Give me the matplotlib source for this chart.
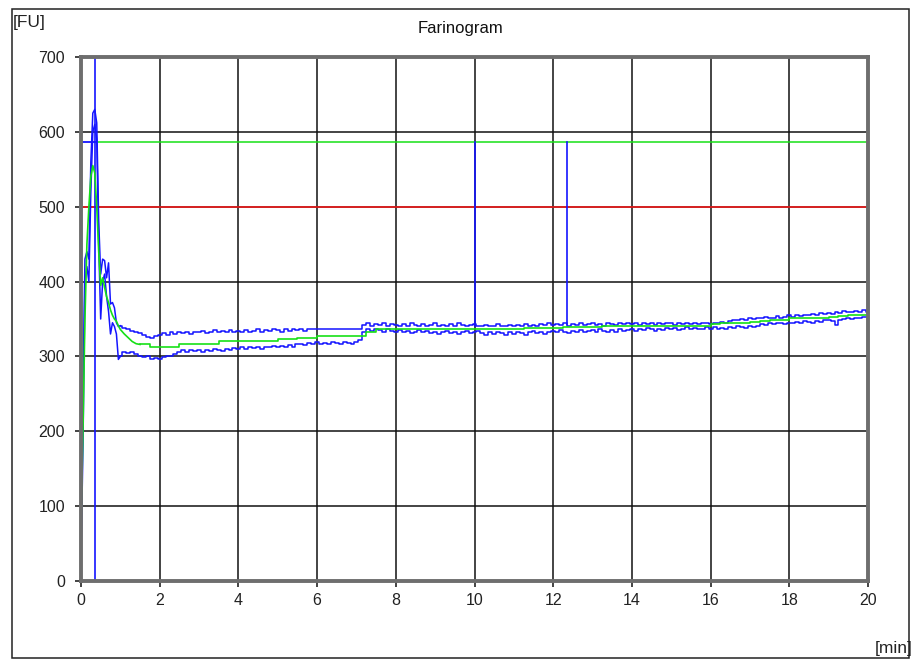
import numpy as np
import matplotlib
matplotlib.use("Agg")
import matplotlib.pyplot as plt
from matplotlib.patches import Rectangle

plt.rcParams['font.family'] = ['Liberation Sans', 'DejaVu Sans']

# start-up phase, fine time steps (min)
start_t = [0.0, 0.05, 0.1, 0.15, 0.2, 0.25, 0.3, 0.35, 0.4, 0.45,
           0.5, 0.55, 0.6, 0.65, 0.7, 0.75, 0.8, 0.85, 0.9, 0.95]
start_hi = [40, 250, 430, 440, 430, 560, 625, 630, 612, 480,
            410, 430, 428, 405, 425, 370, 372, 365, 345, 340]
start_lo = [30, 180, 400, 420, 400, 520, 600, 610, 590, 450,
            350, 400, 410, 380, 360, 330, 345, 340, 330, 296]
mid_start_t = start_t + [1.0, 1.1, 1.2, 1.3, 1.4]
start_mid = [70, 200, 350, 450, 500, 540, 555, 545, 500, 440,
             395, 405, 392, 380, 372, 362, 355, 350, 347, 341,
             336, 330, 325, 320, 317]

# band after start-up, 0.1 min steps from 1.0 to 20.0
band_hi = [
    341, 338, 337, 334, 333, 331, 329, 326, 325, 327,
    328, 331, 329, 332, 330, 333, 331, 332, 330, 333,
    332, 334, 331, 333, 335, 332, 334, 332, 335, 333,
    334, 332, 335, 333, 334, 336, 333, 335, 334, 336,
    335, 333, 336, 334, 337, 335, 336, 334, 337, 336,
    337, 337, 337, 337, 337, 337, 337, 337, 337, 337,
    337, 337, 342, 344, 341, 343, 342, 344, 341, 343,
    342, 340, 343, 341, 344, 342, 340, 343, 341, 342,
    344, 341, 342, 340, 343, 341, 344, 342, 340, 342,
    343, 341, 340, 342, 340, 341, 343, 340, 341, 342,
    340, 342, 341, 343, 340, 342, 341, 343, 342, 344,
    342, 343, 342, 344, 341, 343, 342, 344, 342, 343,
    344, 342, 343, 341, 344, 343, 342, 344, 343, 345,
    343, 344, 342, 345, 343, 344, 342, 344, 343, 345,
    344, 342, 345, 343, 344, 343, 345, 343, 344, 345,
    343, 345, 344, 346, 344, 347, 349, 348, 350, 349,
    351, 350, 352, 351, 353, 351, 352, 354, 352, 353,
    355, 353, 356, 354, 356, 355, 357, 356, 358, 357,
    358, 357, 359, 358, 361, 360, 359, 361, 360, 362,
    360]
band_lo = [
    300, 306, 304, 306, 303, 301, 299, 300, 297, 298,
    296, 299, 301, 300, 303, 306, 308, 306, 309, 307,
    308, 306, 309, 307, 310, 308, 307, 310, 309, 311,
    310, 312, 310, 313, 311, 312, 310, 313, 312, 314,
    312, 314, 313, 315, 313, 316, 317, 315, 318, 317,
    319, 317, 318, 316, 319, 318, 317, 319, 318, 317,
    319, 322, 333, 336, 334, 337, 335, 333, 336, 334,
    333, 335, 332, 334, 331, 333, 335, 332, 334, 331,
    333, 330, 332, 334, 331, 333, 330, 332, 334, 331,
    332, 334, 331, 329, 332, 330, 333, 331, 329, 332,
    330, 333, 331, 329, 332, 334, 331, 333, 330, 332,
    334, 332, 335, 333, 331, 334, 332, 335, 333, 334,
    335, 333, 336, 334, 332, 335, 333, 336, 334, 335,
    336, 334, 337, 335, 338, 336, 334, 337, 335, 338,
    336, 338, 335, 337, 339, 336, 338, 336, 337, 339,
    337, 339, 336, 338, 337, 339, 338, 340, 339, 338,
    340, 339, 341, 343, 342, 344, 343, 345, 344, 343,
    345, 344, 346, 345, 347, 346, 345, 347, 346, 348,
    349, 347, 342, 348, 350, 351, 350, 352, 351, 353,
    353]
# median curve, 0.25 min steps from 1.5 to 20.0
band_mid = [
    316, 313, 313, 313, 316, 317, 317, 317,
    320, 320, 320, 321, 321, 321, 323, 323, 325, 325,
    327, 327, 327, 327, 327, 333, 336, 336, 337, 337,
    336, 337, 337, 336, 337, 337, 337, 336, 337, 337,
    337, 338, 338, 338, 338, 339, 339, 339, 339, 340,
    340, 340, 340, 340, 340, 341, 341, 341, 341, 341,
    343, 344, 345, 345, 346, 347, 348, 349, 351, 351,
    352, 352, 353, 354, 355, 356, 356]

peak_level = 587
limit_level = 500
markers_t = [0.35, 10.0, 12.35]
markers_bottom = [0, 341, 343]
markers_top = [700, 587, 587]

x_ticks = list(range(0, 21, 2))
y_ticks = list(range(0, 701, 100))

t_band = np.arange(len(band_hi)) * 0.1 + 1.0
t_mid = np.arange(len(band_mid)) * 0.25 + 1.5

W, H = 921, 663
fig = plt.figure(figsize=(W / 100, H / 100), dpi=100)
ax = fig.add_axes([81 / W, 1 - 581 / H, 787 / W, 524 / H])

blue = '#1414ff'
green = '#16e016'

ax.axhline(limit_level, color='#ff1a1a', lw=1.1, zorder=2)
ax.plot([markers_t[0], 20], [peak_level, peak_level], color=green, lw=1.1, zorder=2)
ax.plot([0, markers_t[0]], [peak_level, peak_level], color=blue, lw=1.3, zorder=3)

# start-up as plain lines, then the band as a staircase
for s_vals, b_vals in ((start_hi, band_hi), (start_lo, band_lo)):
    ax.plot(start_t + [1.0], s_vals + [b_vals[0]], color=blue, lw=1.1, zorder=3)
    ax.plot(t_band, b_vals, color=blue, lw=1.1, drawstyle='steps-mid', zorder=3)
ax.plot(mid_start_t + [1.5], start_mid + [band_mid[0]], color=green, lw=1.2, zorder=4)
ax.plot(t_mid, band_mid, color=green, lw=1.2, drawstyle='steps-post', zorder=4)

for mt, mb, mtop in zip(markers_t, markers_bottom, markers_top):
    ax.plot([mt, mt], [mb, mtop], color=blue, lw=1.2, zorder=3)

ax.set_xlim(0, 20)
ax.set_ylim(0, 700)
ax.set_xticks(x_ticks)
ax.set_yticks(y_ticks)
ax.grid(True, color='#111111', lw=1.1, zorder=1)
ax.set_axisbelow(True)
ax.tick_params(direction='out', length=4.5, width=1.1, color='#111111',
               labelsize=11.5, labelcolor='#222222')
ax.tick_params(axis='y', pad=7)
ax.tick_params(axis='x', pad=4)
for s in ax.spines.values():
    s.set_color('#6e6e6e')
    s.set_linewidth(2.8)
    s.set_zorder(5)

fig.patches.append(Rectangle((12 / W, 1 - 658 / H), 897 / W, 649 / H,
                             transform=fig.transFigure, fill=False,
                             edgecolor='#222222', lw=1.1))
fig.text(460 / W, 1 - 28 / H, 'Farinogram', ha='center', va='center',
         fontsize=12, color='#111111')
fig.text(13 / W, 1 - 22 / H, '[FU]', ha='left', va='center',
         fontsize=12.5, color='#222222')
fig.text(913 / W, 1 - 649 / H, '[min]', ha='right', va='center',
         fontsize=12.5, color='#222222')

fig.savefig('out.png', dpi=100)
